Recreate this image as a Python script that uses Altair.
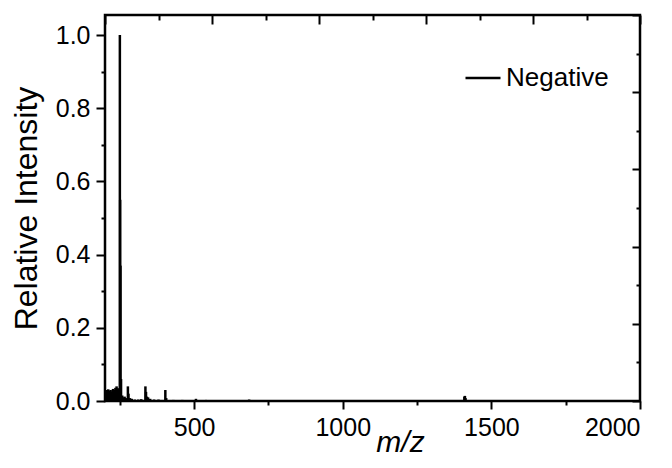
import altair as alt
import pandas as pd

# Peak list (m/z, relative intensity)
mz = [203, 207, 211, 215, 219, 223, 227, 231, 235, 239, 243, 246,
      250, 251, 252, 254, 258, 262, 266, 270,
      277, 279, 284, 290, 300, 312, 322,
      336, 338, 341, 345, 352, 365, 380,
      403, 406, 430, 460, 506, 540, 600, 685, 760, 860, 1000, 1200,
      1409, 1411, 1413, 1600, 1800, 1950]
intensity = [0.030, 0.025, 0.032, 0.028, 0.030, 0.026, 0.033, 0.030, 0.036, 0.040, 0.035, 0.030,
             1.000, 0.550, 0.370, 0.060, 0.015, 0.010, 0.012, 0.008,
             0.040, 0.020, 0.008, 0.006, 0.004, 0.004, 0.005,
             0.040, 0.025, 0.012, 0.010, 0.006, 0.004, 0.004,
             0.030, 0.008, 0.003, 0.003, 0.006, 0.003, 0.002, 0.004, 0.002, 0.002, 0.002, 0.002,
             0.012, 0.014, 0.008, 0.002, 0.002, 0.002]
series = ["Negative"] * len(mz)

x_ticks = [250, 500, 750, 1000, 1250, 1500, 1750, 2000]
y_ticks = [0.0, 0.1, 0.2, 0.3, 0.4, 0.5, 0.6, 0.7, 0.8, 0.9, 1.0]
top_ticks = [0, 1, 2, 3, 4, 5, 6, 7, 8, 9, 10]
right_ticks = [0.0, 0.1, 0.2, 0.3, 0.4, 0.5, 0.6, 0.7, 0.8, 0.9, 1.0]

FONT = "Liberation Sans"
W, H = 535, 386

df = pd.DataFrame({"mz": mz, "intensity": intensity, "series": series})
frame_df = pd.DataFrame({"t": [0, 10], "r": [0.0, 1.0]})

major_y = "abs(round(datum.value*10)) % 2 === 0"

spectrum = alt.Chart(df).mark_rule(strokeWidth=2.5).encode(
    x=alt.X("mz:Q",
            scale=alt.Scale(domain=[200, 2000], nice=False, zero=False),
            axis=alt.Axis(orient="bottom", values=x_ticks, grid=False, domain=False, format="d",
                          labelExpr="datum.value % 500 === 0 ? datum.label : ''",
                          tickSize={"condition": {"test": "datum.value % 500 === 0", "value": 8}, "value": 4},
                          labelPadding=6, title="m/z", titleFontStyle="italic",
                          titleFontSize=30, titleX=295, titleY=50, titleBaseline="alphabetic")),
    y=alt.Y("intensity:Q",
            scale=alt.Scale(domain=[0, 1.055], nice=False),
            axis=alt.Axis(orient="left", values=y_ticks, grid=False, domain=False, format=".1f",
                          labelExpr=major_y + " ? datum.label : ''",
                          tickSize={"condition": {"test": major_y, "value": 9}, "value": 4},
                          labelPadding=6, title="Relative Intensity", titlePadding=12)),
    y2=alt.datum(0),
    color=alt.Color("series:N", scale=alt.Scale(range=["black"]),
                    legend=alt.Legend(title=None, orient="none", legendX=359, legendY=44,
                                      symbolType="stroke", symbolSize=1225, symbolStrokeWidth=2.5,
                                      labelFontSize=26, labelFont=FONT, labelColor="black",
                                      labelOffset=4)),
)

mirror = alt.Chart(frame_df).mark_point(opacity=0).encode(
    x=alt.X("t:Q", scale=alt.Scale(domain=[0, 10], nice=False, zero=False),
            axis=alt.Axis(orient="bottom", offset=-H, values=top_ticks, labels=False, title=None,
                          domain=False, grid=False,
                          tickSize={"condition": {"test": "datum.value % 2 === 0", "value": 9}, "value": 5})),
    y=alt.Y("r:Q", scale=alt.Scale(domain=[0, 1], nice=False),
            axis=alt.Axis(orient="left", offset=-W, values=right_ticks, labels=False, title=None,
                          domain=False, grid=False,
                          tickSize={"condition": {"test": major_y, "value": 8}, "value": 4})),
)

chart = alt.layer(spectrum, mirror).resolve_scale(
    x="independent", y="independent"
).properties(
    width=W, height=H,
    autosize=alt.AutoSizeParams(type="none"),
    padding={"left": 97, "top": 7, "right": 24, "bottom": 58},
).configure_view(
    stroke="black", strokeWidth=2.5
).configure_axis(
    labelFont=FONT, titleFont=FONT, labelFontSize=25, titleFontSize=32,
    titleFontWeight="normal", labelColor="black", titleColor="black",
    tickColor="black", tickWidth=2
)

chart.save("out.html", embed_options={"renderer": "svg", "actions": False})
